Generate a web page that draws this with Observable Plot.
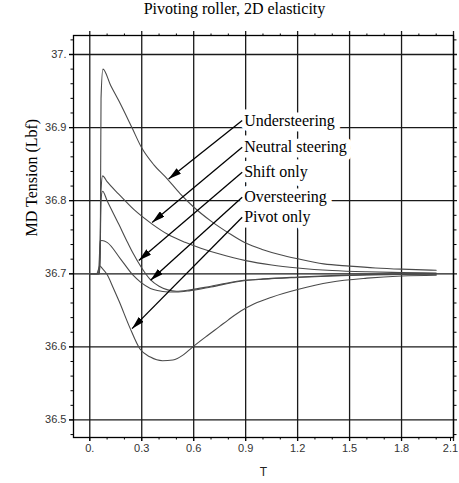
<!DOCTYPE html>
<html><head><meta charset="utf-8">
<script src="https://cdn.jsdelivr.net/npm/d3@7"></script>
<script src="https://cdn.jsdelivr.net/npm/@observablehq/plot@0.6"></script>
<style>
body{margin:0;background:#fff;width:459px;}
#title{height:28px;line-height:28px;font:16px "Liberation Serif",serif;text-align:center;padding-left:10px;box-sizing:border-box;width:459px;color:#000;}
</style>
</head><body>
<div id="title">Pivoting roller, 2D elasticity</div>
<div id="chart"></div>
<script>
// ---- data ----
const U_T = [0, 0.04, 0.056, 0.061, 0.065, 0.076, 0.12, 0.167, 0.244, 0.298, 0.37, 0.447, 0.52, 0.601, 0.7, 0.8, 0.9, 1.0, 1.1, 1.2, 1.35, 1.5, 1.65, 1.8, 2.0];
const U_V = [36.7, 36.7, 36.7, 36.75, 36.94, 36.98, 36.958, 36.937, 36.8997, 36.873, 36.849, 36.83, 36.81, 36.791, 36.772, 36.756, 36.742, 36.733, 36.726, 36.7205, 36.7135, 36.7105, 36.708, 36.7063, 36.7048];

const N_T = [0, 0.04, 0.056, 0.061, 0.065, 0.074, 0.1, 0.167, 0.254, 0.36, 0.45, 0.55, 0.641, 0.75, 0.9, 1.05, 1.2, 1.4, 1.6, 1.8, 2.0];
const N_V = [36.7, 36.7, 36.7, 36.74, 36.815, 36.834, 36.826, 36.809, 36.788, 36.768, 36.754, 36.743, 36.735, 36.727, 36.718, 36.712, 36.708, 36.7045, 36.7027, 36.7017, 36.701];

const S_T = [0, 0.04, 0.055, 0.06, 0.064, 0.074, 0.1, 0.167, 0.22, 0.25, 0.3, 0.35, 0.4, 0.45, 0.5, 0.58, 0.7, 0.87, 1.0, 1.2, 1.4, 1.6, 1.8, 2.0];
const S_V = [36.7, 36.7, 36.7, 36.74, 36.8, 36.813, 36.8, 36.768, 36.742, 36.728, 36.708, 36.692, 36.683, 36.678, 36.676, 36.678, 36.683, 36.6905, 36.693, 36.6955, 36.6975, 36.6988, 36.6995, 36.7];

const O_T = [0, 0.04, 0.05, 0.055, 0.06, 0.07, 0.1, 0.177, 0.25, 0.293, 0.35, 0.39, 0.45, 0.5, 0.58, 0.7, 0.87, 1.0, 1.2, 1.4, 1.6, 1.8, 2.0];
const O_V = [36.7, 36.7, 36.7, 36.72, 36.745, 36.7455, 36.743, 36.7205, 36.698, 36.6885, 36.68, 36.677, 36.675, 36.675, 36.677, 36.682, 36.6898, 36.6925, 36.695, 36.697, 36.6983, 36.699, 36.6995];

const P_T = [0, 0.04, 0.05, 0.057, 0.07, 0.1, 0.135, 0.17, 0.23, 0.29, 0.35, 0.42, 0.48, 0.54, 0.59, 0.68, 0.75, 0.8, 0.872, 0.95, 1.05, 1.2, 1.39, 1.6, 1.8, 2.0];
const P_V = [36.7, 36.7, 36.706, 36.711, 36.708, 36.699, 36.681, 36.662, 36.627, 36.597, 36.586, 36.581, 36.582, 36.589, 36.599, 36.6156, 36.628, 36.637, 36.649, 36.659, 36.668, 36.6785, 36.6885, 36.694, 36.697, 36.698];

const labelNames = ["Understeering", "Neutral steering", "Shift only", "Oversteering", "Pivot only"];
const labelX = 0.88;
const labelY = [36.9097, 36.8732, 36.839, 36.8048, 36.7774];
const tipX = [0.455, 0.36, 0.283, 0.351, 0.244];
const tipY = [36.8296, 36.7703, 36.7183, 36.6911, 36.6249];

const xTicks = [0, 0.3, 0.6, 0.9, 1.2, 1.5, 1.8, 2.1];
const xTickLabels = ["0.", "0.3", "0.6", "0.9", "1.2", "1.5", "1.8", "2.1"];
const yTicks = [36.5, 36.6, 36.7, 36.8, 36.9, 37];
const yTickLabels = ["36.5", "36.6", "36.7", "36.8", "36.9", "37."];
const xMinor = [0.1, 0.2, 0.4, 0.5, 0.7, 0.8, 1.0, 1.1, 1.3, 1.4, 1.6, 1.7, 1.9, 2.0];
const yMinor = [36.48, 36.52, 36.54, 36.56, 36.58, 36.62, 36.64, 36.66, 36.68, 36.72, 36.74, 36.76, 36.78, 36.82, 36.84, 36.86, 36.88, 36.92, 36.94, 36.96, 36.98, 37.02];

const xDomain = [-0.094, 2.1];
const yDomain = [36.476, 37.026];

// ---- chart ----
const curveColor = "#4a4a4a";
const series = [[U_T, U_V], [N_T, N_V], [S_T, S_V], [O_T, O_V], [P_T, P_V]];
const lx = labelNames.map(() => labelX);
const serif = "Liberation Serif";
const xFmt = d => xTickLabels[xTicks.indexOf(d)];

const plot = Plot.plot({
  width: 459,
  height: 455,
  marginLeft: 73,
  marginRight: 6,
  marginTop: 7,
  marginBottom: 46,
  style: {fontFamily: "Liberation Sans", fontSize: "11px", background: "white"},
  x: {domain: xDomain},
  y: {domain: yDomain},
  marks: [
    Plot.ruleX(xTicks, {stroke: "#1a1a1a", strokeWidth: 1.3, insetTop: -4, insetBottom: -4}),
    Plot.ruleY(yTicks, {stroke: "#1a1a1a", strokeWidth: 1.3, insetLeft: -4, insetRight: -4}),
    Plot.frame({stroke: "black", strokeWidth: 1.3}),
    ...series.map(([t, v]) => Plot.line(t, {x: t, y: v, stroke: curveColor, strokeWidth: 1.1, curve: "monotone-x"})),
    // white box behind labels
    Plot.text(labelNames, {x: lx, y: labelY, text: d => d, textAnchor: "start", dx: 2, fontFamily: serif, fontSize: 16, fill: "white", stroke: "white", strokeWidth: 11, strokeLinejoin: "round"}),
    Plot.link(labelNames, {x1: lx, y1: labelY, x2: tipX, y2: tipY, stroke: "black", strokeWidth: 1.3}),
    Plot.text(labelNames, {x: lx, y: labelY, text: d => d, textAnchor: "start", dx: 2, fontFamily: serif, fontSize: 16, fill: "black"}),
    // axes
    Plot.axisX(xTicks.slice(0, -1), {anchor: "bottom", tickSize: 4, tickPadding: 3, stroke: "black", fill: "#333", label: null, tickFormat: xFmt}),
    Plot.axisX(xTicks.slice(-1), {anchor: "bottom", tickSize: 4, tickPadding: 3, stroke: "black", fill: "#333", label: null, tickFormat: xFmt, dx: -3}),
    Plot.axisY(yTicks, {anchor: "left", tickSize: 4, tickPadding: 3, stroke: "black", fill: "#333", label: null,
      tickFormat: d => yTickLabels[yTicks.indexOf(d)]}),
    Plot.axisX(xMinor, {anchor: "bottom", tickSize: 2.5, stroke: "black", fill: "none", label: null}),
    Plot.axisX(xMinor, {anchor: "top", tickSize: 2.5, stroke: "black", fill: "none", label: null}),
    Plot.axisY(yMinor, {anchor: "left", tickSize: 2.5, stroke: "black", fill: "none", label: null}),
    Plot.axisY(yMinor, {anchor: "right", tickSize: 2.5, stroke: "black", fill: "none", label: null}),
    Plot.text(["MD Tension (Lbf)"], {frameAnchor: "left", rotate: -90, dx: -42, fontFamily: serif, fontSize: 16, fill: "black"}),
    Plot.text(["T"], {frameAnchor: "bottom", lineAnchor: "middle", dy: 34.5, fontSize: 12, fill: "#222"})
  ]
});

// filled arrowheads on the link paths
const svg = d3.select(plot);
const defs = svg.insert("defs", ":first-child");
defs.append("marker")
  .attr("id", "ahead")
  .attr("viewBox", "0 0 13 7")
  .attr("refX", 13).attr("refY", 3.5)
  .attr("markerWidth", 13).attr("markerHeight", 7)
  .attr("markerUnits", "userSpaceOnUse")
  .attr("orient", "auto")
  .append("path").attr("d", "M0,0L13,3.5L0,7Z").attr("fill", "black");
svg.selectAll('g[aria-label="link"] path').attr("marker-end", "url(#ahead)");

document.getElementById("chart").appendChild(plot);
</script>
</body></html>
